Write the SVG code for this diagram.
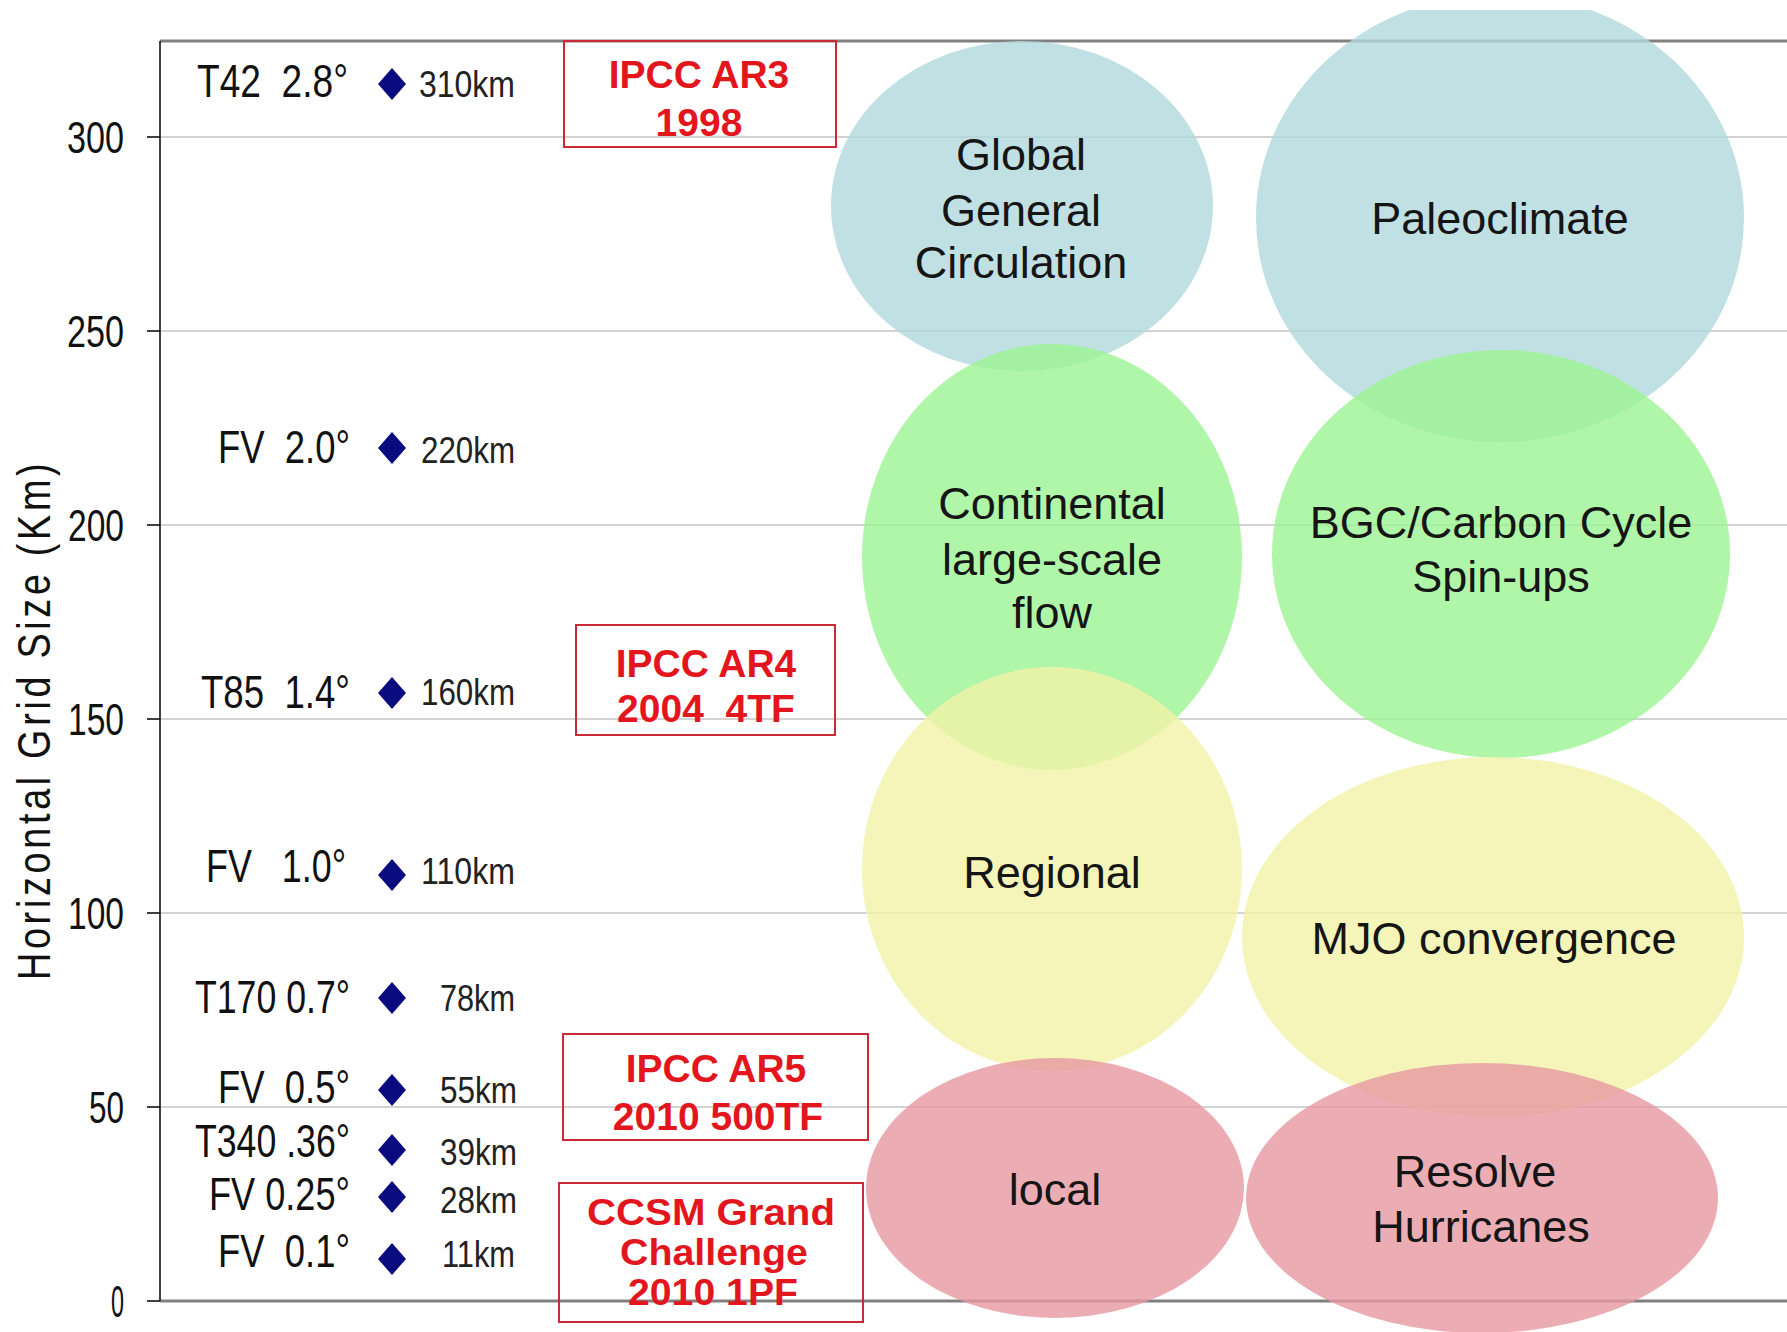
<svg xmlns="http://www.w3.org/2000/svg" xmlns:xlink="http://www.w3.org/1999/xlink" width="1787" height="1332" viewBox="0 0 1787 1332">
  <style>
    .grid { stroke: #c4c4c4; stroke-width: 1.5; }
    .frame { stroke: #808080; stroke-width: 3; }
    .axis { stroke: #000; stroke-width: 1.5; }
    .num { font-family: "Liberation Sans Narrow", "Liberation Sans", Arial, sans-serif; font-size: 44px; fill: #111; }
    .lab { font-family: "Liberation Sans Narrow", "Liberation Sans", Arial, sans-serif; font-size: 46px; fill: #111; white-space: pre; }
    .km { font-family: "Liberation Sans Narrow", "Liberation Sans", Arial, sans-serif; font-size: 36px; fill: #222; }
    .title { font-family: "Liberation Sans", Arial, sans-serif; font-size: 46px; fill: #111; }
    .box { fill: none; stroke: #c92a35; stroke-width: 2; }
    .red { font-family: "Liberation Sans", Arial, sans-serif; font-weight: bold; font-size: 39px; fill: #e3161e; text-anchor: middle; white-space: pre; }
    .red2 { font-family: "Liberation Sans", Arial, sans-serif; font-weight: bold; font-size: 36px; fill: #e3161e; }
    .bub { font-family: "Liberation Sans", Arial, sans-serif; font-size: 45px; fill: #151515; text-anchor: middle; }
    .blue { fill: #b0d8dd; fill-opacity: 0.8; }
    .green { fill: #9cf492; fill-opacity: 0.8; }
    .yellow { fill: #f2f2a7; fill-opacity: 0.8; }
    .pink { fill: #e797a1; fill-opacity: 0.8; }
  </style>
  <defs>
    <path id="dia" d="M0,-16 L14,0 L0,16 L-14,0 Z" fill="#0b0b80"/>
    <clipPath id="clipTop"><rect x="0" y="10" width="1787" height="1322"/></clipPath>
  </defs>
  <rect width="1787" height="1332" fill="#fff"/>

  <g id="axes">
    <line class="grid" x1="160" y1="137" x2="1787" y2="137"/>
    <line class="grid" x1="160" y1="331" x2="1787" y2="331"/>
    <line class="grid" x1="160" y1="525" x2="1787" y2="525"/>
    <line class="grid" x1="160" y1="719" x2="1787" y2="719"/>
    <line class="grid" x1="160" y1="913" x2="1787" y2="913"/>
    <line class="grid" x1="160" y1="1107" x2="1787" y2="1107"/>
    <line class="frame" x1="160" y1="41" x2="1787" y2="41"/>
    <line class="frame" x1="160" y1="1301" x2="1787" y2="1301"/>
    <line class="axis" x1="160" y1="41" x2="160" y2="1301"/>
    <line class="axis" x1="147" y1="137" x2="160" y2="137"/>
    <line class="axis" x1="147" y1="331" x2="160" y2="331"/>
    <line class="axis" x1="147" y1="525" x2="160" y2="525"/>
    <line class="axis" x1="147" y1="719" x2="160" y2="719"/>
    <line class="axis" x1="147" y1="913" x2="160" y2="913"/>
    <line class="axis" x1="147" y1="1107" x2="160" y2="1107"/>
    <line class="axis" x1="147" y1="1301" x2="160" y2="1301"/>
    <text class="num" x="67" y="153" textLength="57" lengthAdjust="spacingAndGlyphs">300</text>
    <text class="num" x="67" y="347" textLength="57" lengthAdjust="spacingAndGlyphs">250</text>
    <text class="num" x="68" y="541" textLength="56" lengthAdjust="spacingAndGlyphs">200</text>
    <text class="num" x="68" y="735" textLength="56" lengthAdjust="spacingAndGlyphs">150</text>
    <text class="num" x="68" y="929" textLength="56" lengthAdjust="spacingAndGlyphs">100</text>
    <text class="num" x="89" y="1123" textLength="35" lengthAdjust="spacingAndGlyphs">50</text>
    <text class="num" x="111" y="1317" textLength="13" lengthAdjust="spacingAndGlyphs">0</text>
    <g transform="translate(50,980) rotate(-90) scale(0.82,1)">
      <text class="title" x="0" y="0" textLength="630" lengthAdjust="spacing">Horizontal Grid Size (Km)</text>
    </g>
  </g>

  <g id="resolutions">
    <g id="r-t42">
      <text class="lab" x="197" y="97" textLength="151" lengthAdjust="spacingAndGlyphs">T42  2.8°</text>
      <use xlink:href="#dia" x="392" y="84"/>
      <text class="km" x="419" y="97" textLength="96" lengthAdjust="spacingAndGlyphs">310km</text>
    </g>
    <g id="r-fv20">
      <text class="lab" x="218" y="463" textLength="132" lengthAdjust="spacingAndGlyphs">FV  2.0°</text>
      <use xlink:href="#dia" x="392" y="448"/>
      <text class="km" x="421" y="463" textLength="94" lengthAdjust="spacingAndGlyphs">220km</text>
    </g>
    <g id="r-t85">
      <text class="lab" x="201" y="708" textLength="149" lengthAdjust="spacingAndGlyphs">T85  1.4°</text>
      <use xlink:href="#dia" x="392" y="693"/>
      <text class="km" x="421" y="705" textLength="94" lengthAdjust="spacingAndGlyphs">160km</text>
    </g>
    <g id="r-fv10">
      <text class="lab" x="206" y="882" textLength="140" lengthAdjust="spacingAndGlyphs">FV   1.0°</text>
      <use xlink:href="#dia" x="392" y="875"/>
      <text class="km" x="421" y="884" textLength="94" lengthAdjust="spacingAndGlyphs">110km</text>
    </g>
    <g id="r-t170">
      <text class="lab" x="195" y="1013" textLength="155" lengthAdjust="spacingAndGlyphs">T170 0.7°</text>
      <use xlink:href="#dia" x="392" y="998"/>
      <text class="km" x="440" y="1011" textLength="75" lengthAdjust="spacingAndGlyphs">78km</text>
    </g>
    <g id="r-fv05">
      <text class="lab" x="218" y="1103" textLength="132" lengthAdjust="spacingAndGlyphs">FV  0.5°</text>
      <use xlink:href="#dia" x="392" y="1090"/>
      <text class="km" x="440" y="1103" textLength="77" lengthAdjust="spacingAndGlyphs">55km</text>
    </g>
    <g id="r-t340">
      <text class="lab" x="195" y="1157" textLength="155" lengthAdjust="spacingAndGlyphs">T340 .36°</text>
      <use xlink:href="#dia" x="392" y="1150"/>
      <text class="km" x="440" y="1165" textLength="77" lengthAdjust="spacingAndGlyphs">39km</text>
    </g>
    <g id="r-fv025">
      <text class="lab" x="209" y="1210" textLength="141" lengthAdjust="spacingAndGlyphs">FV 0.25°</text>
      <use xlink:href="#dia" x="392" y="1197"/>
      <text class="km" x="440" y="1213" textLength="77" lengthAdjust="spacingAndGlyphs">28km</text>
    </g>
    <g id="r-fv01">
      <text class="lab" x="218" y="1267" textLength="132" lengthAdjust="spacingAndGlyphs">FV  0.1°</text>
      <use xlink:href="#dia" x="392" y="1259"/>
      <text class="km" x="442" y="1267" textLength="73" lengthAdjust="spacingAndGlyphs">11km</text>
    </g>
  </g>

  <g id="bubbles">
    <g id="n-global">
      <ellipse class="blue" cx="1022" cy="206" rx="191" ry="165"/>
      <text class="bub" x="1021" y="170">Global</text>
      <text class="bub" x="1021" y="226">General</text>
      <text class="bub" x="1021" y="278">Circulation</text>
    </g>
    <g id="n-paleo">
      <ellipse class="blue" cx="1500" cy="218" rx="244" ry="224" clip-path="url(#clipTop)"/>
      <text class="bub" x="1500" y="234">Paleoclimate</text>
    </g>
    <g id="n-continental">
      <ellipse class="green" cx="1052" cy="557" rx="190" ry="213"/>
      <text class="bub" x="1052" y="519">Continental</text>
      <text class="bub" x="1052" y="575">large-scale</text>
      <text class="bub" x="1052" y="628">flow</text>
    </g>
    <g id="n-bgc">
      <ellipse class="green" cx="1501" cy="554" rx="229" ry="204"/>
      <text class="bub" x="1501" y="538">BGC/Carbon Cycle</text>
      <text class="bub" x="1501" y="592">Spin-ups</text>
    </g>
    <g id="n-regional">
      <ellipse class="yellow" cx="1052" cy="869" rx="190" ry="202"/>
      <text class="bub" x="1052" y="888">Regional</text>
    </g>
    <g id="n-mjo">
      <ellipse class="yellow" cx="1493" cy="937" rx="251" ry="180"/>
      <text class="bub" x="1494" y="954">MJO convergence</text>
    </g>
    <g id="n-local">
      <ellipse class="pink" cx="1055" cy="1188" rx="189" ry="130"/>
      <text class="bub" x="1055" y="1205">local</text>
    </g>
    <g id="n-hurricanes">
      <ellipse class="pink" cx="1482" cy="1198" rx="236" ry="135"/>
      <text class="bub" x="1475" y="1187">Resolve</text>
      <text class="bub" x="1481" y="1242">Hurricanes</text>
    </g>
  </g>

  <g id="milestones">
    <g id="m-ar3">
      <rect class="box" x="564" y="41" width="272" height="106"/>
      <text class="red" x="699" y="88">IPCC AR3</text>
      <text class="red" x="699" y="136">1998</text>
    </g>
    <g id="m-ar4">
      <rect class="box" x="576" y="625" width="259" height="110"/>
      <text class="red" x="706" y="677">IPCC AR4</text>
      <text class="red" x="706" y="722">2004  4TF</text>
    </g>
    <g id="m-ar5">
      <rect class="box" x="563" y="1034" width="305" height="106"/>
      <text class="red" x="716" y="1082">IPCC AR5</text>
      <text class="red" x="718" y="1130">2010 500TF</text>
    </g>
    <g id="m-ccsm">
      <rect class="box" x="559" y="1183" width="304" height="139"/>
      <text class="red2" x="587" y="1225" textLength="248" lengthAdjust="spacingAndGlyphs">CCSM Grand</text>
      <text class="red2" x="620" y="1265" textLength="188" lengthAdjust="spacingAndGlyphs">Challenge</text>
      <text class="red2" x="628" y="1305" textLength="170" lengthAdjust="spacingAndGlyphs">2010 1PF</text>
    </g>
  </g>

  <g id="connectors"/>
</svg>
